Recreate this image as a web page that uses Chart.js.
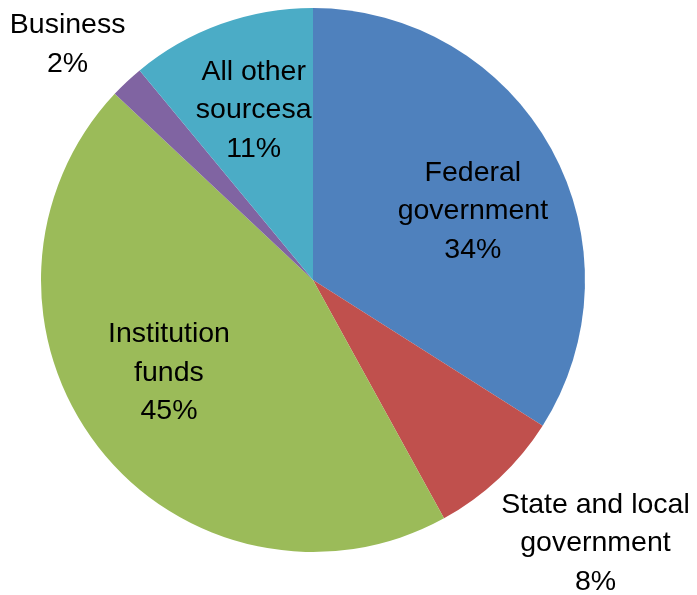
<!DOCTYPE html>
<html>
<head>
<meta charset="utf-8">
<script src="https://cdn.jsdelivr.net/npm/chart.js@4/dist/chart.umd.min.js"></script>
<style>
  html, body { margin: 0; padding: 0; background: #fff; }
  #wrap { width: 697px; height: 595px; }
</style>
</head>
<body>
<div id="wrap"><canvas id="pie"></canvas></div>
<script>
// ─── Data ─────────────────────────────────────────────
const categories = [
    ['Federal', 'government'],
    ['State and local', 'government'],
    ['Institution', 'funds'],
    ['Business'],
    ['All other', 'sourcesa'],
];
const shares = [34, 8, 45, 2, 11];
const colors = ['#4F81BD', '#C0504D', '#9BBB59', '#8064A2', '#4BACC6'];

// label placement: radius factor from centre, angle nudge in degrees
const labelRadius = [0.64, 1.42, 0.63, 1.25, 0.66];
const labelNudge  = [5.5, -3.8, 5, -3, 0.5];

// ─── Label plugin ─────────────────────────────────────
const sliceLabels = {
    id: 'sliceLabels',
    afterDatasetsDraw(chart) {
        const ctx = chart.ctx;
        const meta = chart.getDatasetMeta(0);
        ctx.save();
        ctx.font = '28.5px "Liberation Sans", Arial, sans-serif';
        ctx.fillStyle = '#000';
        ctx.textAlign = 'center';
        ctx.textBaseline = 'middle';
        meta.data.forEach((arc, i) => {
            const p = arc.getProps(['x', 'y', 'startAngle', 'endAngle', 'outerRadius'], true);
            const mid = (p.startAngle + p.endAngle) / 2 + labelNudge[i] * Math.PI / 180;
            const r = p.outerRadius * labelRadius[i];
            const cx = p.x + Math.cos(mid) * r;
            const cy = p.y + Math.sin(mid) * r;
            const lines = [...categories[i], shares[i] + '%'];
            const lh = 38.5;
            lines.forEach((t, k) => {
                ctx.fillText(t, cx, cy + (k - (lines.length - 1) / 2) * lh);
            });
        });
        ctx.restore();
    },
};

// ─── Chart ────────────────────────────────────────────
new Chart(document.getElementById('pie'), {
    type: 'pie',
    data: {
        labels: categories.map(c => c.join(' ')),
        datasets: [{
            data: shares,
            backgroundColor: colors,
            borderWidth: 0,
        }],
    },
    options: {
        responsive: true,
        maintainAspectRatio: false,
        animation: false,
        layout: { padding: { left: 41, right: 112, top: 8, bottom: 43 } },
        plugins: {
            legend: { display: false },
            tooltip: { enabled: false },
        },
    },
    plugins: [sliceLabels],
});
</script>
</body>
</html>
